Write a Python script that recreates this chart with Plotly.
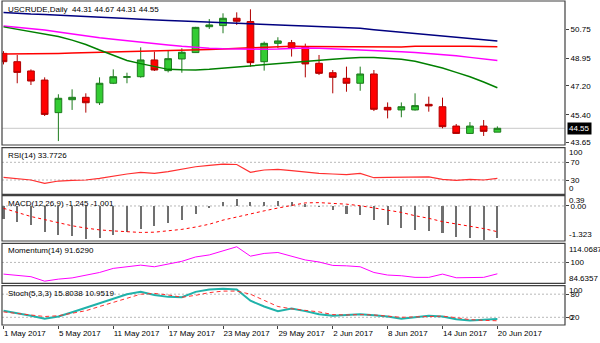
import plotly.graph_objects as go

# ---- data -------------------------------------------------------------
bar_dates = [
    "2017-05-01", "2017-05-02", "2017-05-03", "2017-05-04", "2017-05-05",
    "2017-05-08", "2017-05-09", "2017-05-10", "2017-05-11", "2017-05-12",
    "2017-05-15", "2017-05-16", "2017-05-17", "2017-05-18", "2017-05-19",
    "2017-05-22", "2017-05-23", "2017-05-24", "2017-05-25", "2017-05-26",
    "2017-05-29", "2017-05-30", "2017-05-31", "2017-06-01", "2017-06-02",
    "2017-06-05", "2017-06-06", "2017-06-07", "2017-06-08", "2017-06-09",
    "2017-06-12", "2017-06-13", "2017-06-14", "2017-06-15", "2017-06-16",
    "2017-06-19", "2017-06-20",
]

open_ = [49.24, 48.72, 48.14, 47.57, 45.53, 46.34, 46.49, 46.15, 47.37, 47.74,
         47.78, 48.83, 48.16, 48.89, 49.29, 50.91, 50.98, 51.44, 51.23, 48.72,
         49.87, 49.91, 49.66, 48.62, 48.03, 47.68, 47.37, 47.95, 45.86, 45.70,
         45.70, 46.05, 45.90, 44.69, 44.23, 44.69, 44.31]
high = [49.38, 49.14, 48.24, 47.74, 46.68, 46.99, 46.74, 47.74, 48.24, 48.03,
        49.62, 49.35, 49.45, 49.56, 50.90, 51.39, 51.75, 51.81, 52.00, 49.98,
        50.25, 50.08, 49.85, 49.14, 48.20, 48.41, 48.41, 48.20, 46.17, 46.17,
        46.74, 46.53, 46.47, 44.82, 44.94, 45.07, 44.67]
low = [48.55, 47.37, 47.26, 45.32, 43.75, 45.70, 45.53, 46.01, 47.32, 47.37,
       47.72, 48.14, 48.05, 48.03, 49.27, 50.77, 50.50, 51.02, 48.41, 48.16,
       49.56, 49.04, 47.74, 47.89, 46.74, 46.84, 46.90, 45.63, 45.17, 45.24,
       45.66, 45.59, 44.55, 44.20, 44.20, 44.07, 44.31]
close = [48.72, 48.05, 47.51, 45.42, 46.43, 46.49, 46.15, 47.37, 47.78, 47.78,
         48.83, 48.20, 48.91, 49.31, 50.87, 51.02, 51.44, 51.25, 48.66, 49.87,
         50.02, 49.60, 48.58, 47.99, 47.74, 47.37, 47.95, 45.74, 45.70, 45.90,
         45.97, 45.95, 44.65, 44.23, 44.69, 44.36, 44.55]

ma_blue = [51.80, 51.74, 51.70, 51.67, 51.63, 51.60, 51.57, 51.54, 51.48, 51.42,
           51.37, 51.32, 51.30, 51.27, 51.24, 51.21, 51.18, 51.15, 51.10, 51.07,
           51.04, 50.99, 50.95, 50.91, 50.88, 50.84, 50.81, 50.72, 50.64, 50.57,
           50.51, 50.42, 50.33, 50.25, 50.17, 50.07, 50.02]
ma_red = [49.20, 49.20, 49.21, 49.22, 49.24, 49.26, 49.28, 49.29, 49.31, 49.33,
          49.35, 49.37, 49.39, 49.41, 49.42, 49.48, 49.52, 49.56, 49.60, 49.62,
          49.66, 49.69, 49.67, 49.67, 49.66, 49.65, 49.64, 49.63, 49.63, 49.64,
          49.68, 49.69, 49.69, 49.69, 49.68, 49.67, 49.66]
ma_magenta = [50.96, 50.88, 50.80, 50.70, 50.58, 50.45, 50.32, 50.22, 50.12, 50.02,
              49.92, 49.84, 49.76, 49.68, 49.60, 49.56, 49.53, 49.51, 49.50, 49.50,
              49.51, 49.54, 49.58, 49.56, 49.53, 49.51, 49.47, 49.44, 49.40, 49.35,
              49.30, 49.24, 49.17, 49.09, 48.99, 48.89, 48.79]
ma_green = [50.90, 50.75, 50.60, 50.45, 50.30, 50.07, 49.80, 49.45, 49.10, 48.80,
            48.60, 48.42, 48.24, 48.21, 48.20, 48.25, 48.32, 48.40, 48.48, 48.56,
            48.64, 48.70, 48.75, 48.82, 48.88, 48.93, 48.98, 48.98, 48.94, 48.87,
            48.75, 48.55, 48.32, 48.05, 47.78, 47.45, 47.09]

rsi = [36.0, 33.8, 30.0, 22.5, 27.7, 29.3, 30.0, 33.8, 39.0, 43.6,
       47.4, 45.0, 48.8, 54.0, 60.0, 63.2, 66.0, 65.0, 47.4, 52.6,
       54.0, 51.0, 47.4, 45.0, 43.6, 42.0, 45.0, 35.2, 36.0, 36.0,
       37.5, 37.0, 31.5, 29.3, 31.5, 30.0, 33.7726]

macd_hist = [-0.48, -0.62, -0.74, -1.01, -1.10, -1.17, -1.26, -1.22, -1.10, -1.00,
             -0.87, -0.78, -0.65, -0.52, -0.29, -0.06, 0.15, 0.27, 0.17, 0.17,
             0.21, 0.17, 0.07, -0.02, -0.16, -0.31, -0.35, -0.54, -0.74, -0.83,
             -0.91, -0.96, -1.04, -1.19, -1.22, -1.30, -1.245]
macd_signal = [-0.09, -0.25, -0.41, -0.53, -0.66, -0.77, -0.86, -0.93, -0.97, -1.01,
               -1.03, -1.02, -0.97, -0.91, -0.82, -0.71, -0.55, -0.42, -0.30, -0.19,
               -0.08, 0.03, 0.12, 0.13, 0.11, 0.07, 0.01, -0.07, -0.16, -0.25,
               -0.38, -0.48, -0.61, -0.70, -0.78, -0.88, -1.001]

momentum = [91.4, 90.5, 89.5, 86.2, 87.7, 88.6, 90.5, 92.6, 95.6, 96.8,
            98.0, 96.8, 98.7, 100.8, 104.0, 105.5, 108.5, 111.5, 104.6, 106.6,
            107.3, 104.8, 101.8, 100.3, 97.8, 97.5, 96.8, 92.6, 90.7, 90.2,
            89.0, 89.0, 91.4, 88.7, 89.0, 89.0, 91.629]

stoch_k = [37, 31, 24, 16, 22, 33, 45, 57, 68, 80,
           86, 78, 73, 72, 86, 92, 94, 92, 63, 48,
           36, 43, 36, 28, 24, 26, 28, 25, 22, 16.5,
           20, 24, 22, 15, 12, 13, 15.8038]
stoch_d = [34, 30, 26, 22, 24, 30, 37, 48, 58, 70,
           80, 82, 78, 72, 77, 84, 88, 88, 80, 64,
           48, 42, 38, 34, 27, 26, 27, 26, 23, 20,
           21, 22, 23, 19, 14, 12, 10.9519]

date_ticks = [0, 4, 8, 12, 16, 20, 24, 28, 32, 36]
date_labels = ["1 May 2017", "5 May 2017", "11 May 2017", "17 May 2017",
               "23 May 2017", "29 May 2017", "2 Jun 2017", "8 Jun 2017",
               "14 Jun 2017", "20 Jun 2017"]

price_ticks = [50.75, 48.95, 47.20, 45.40, 43.65]
last_price = 44.55

# ---- figure -----------------------------------------------------------
FONT = "Liberation Sans, Arial, sans-serif"
xs = list(range(len(bar_dates)))

# panel vertical domains (paper units)
D_MAIN = [0.5556, 1.0]
D_RSI = [0.4034, 0.5472]
D_MACD = [0.2593, 0.3991]
D_MOM = [0.1287, 0.2522]
D_STO = [0.0, 0.1213]

fig = go.Figure()

fig.add_trace(go.Candlestick(
    x=xs, open=open_, high=high, low=low, close=close,
    increasing=dict(line=dict(color="#1E7B1E", width=1), fillcolor="#33CC33"),
    decreasing=dict(line=dict(color="#B00000", width=1), fillcolor="#FF0000"),
    whiskerwidth=0, xaxis="x", yaxis="y", showlegend=False, hoverinfo="skip",
))

for vals, col in [(ma_blue, "#000080"), (ma_red, "#FF0000"),
                  (ma_magenta, "#FF00FF"), (ma_green, "#008000")]:
    fig.add_trace(go.Scatter(x=xs, y=vals, mode="lines", yaxis="y",
                             line=dict(color=col, width=1.5),
                             showlegend=False, hoverinfo="skip"))

fig.add_trace(go.Scatter(x=xs, y=rsi, mode="lines", yaxis="y2",
                         line=dict(color="#FF3030", width=1.2),
                         showlegend=False, hoverinfo="skip"))

fig.add_trace(go.Bar(x=xs, y=macd_hist, yaxis="y3", width=0.15,
                     marker=dict(color="#707070", line=dict(width=0)),
                     showlegend=False, hoverinfo="skip"))
fig.add_trace(go.Scatter(x=xs, y=macd_signal, mode="lines", yaxis="y3",
                         line=dict(color="#FF0000", width=1, dash="3px,3px"),
                         showlegend=False, hoverinfo="skip"))

fig.add_trace(go.Scatter(x=xs, y=momentum, mode="lines", yaxis="y4",
                         line=dict(color="#FF00FF", width=1),
                         showlegend=False, hoverinfo="skip"))

fig.add_trace(go.Scatter(x=xs, y=stoch_k, mode="lines", yaxis="y5",
                         line=dict(color="#20B2AA", width=2),
                         showlegend=False, hoverinfo="skip"))
fig.add_trace(go.Scatter(x=xs, y=stoch_d, mode="lines", yaxis="y5",
                         line=dict(color="#FF3030", width=1, dash="4px,3px"),
                         showlegend=False, hoverinfo="skip"))


def yax(domain, rng, tickvals, ticktext):
    return dict(domain=domain, range=rng, anchor="x", side="right",
                tickvals=tickvals, ticktext=ticktext, ticks="outside",
                ticklen=3, tickcolor="#404040", showgrid=False, zeroline=False,
                showline=False, fixedrange=True,
                tickfont=dict(family=FONT, size=8, color="#000000"))


shapes = []
# dotted indicator levels
for yref, lv in [("y2", 70), ("y2", 30), ("y3", 0), ("y4", 100),
                 ("y5", 80), ("y5", 20)]:
    shapes.append(dict(type="line", xref="paper", x0=0, x1=1, yref=yref,
                       y0=lv, y1=lv, layer="below",
                       line=dict(color="#B8B8B8", width=1, dash="2px,2px")))
# last price line
shapes.append(dict(type="line", xref="paper", x0=0, x1=1, yref="y",
                   y0=last_price, y1=last_price, layer="below",
                   line=dict(color="#C8C8C8", width=1)))
# panel frames
for d in [D_MAIN, D_RSI, D_MACD, D_MOM, D_STO]:
    shapes.append(dict(type="rect", xref="paper", yref="paper", x0=0, x1=1,
                       y0=d[0], y1=d[1], layer="above",
                       line=dict(color="#404040", width=1.2)))

ann = []


def label(text, y, yref="paper", x=0, xshift=4, color="#000000", **kw):
    ann.append(dict(text=text, x=x, y=y, xref="paper", yref=yref,
                    xanchor="left", yanchor="middle", showarrow=False,
                    xshift=xshift, font=dict(family=FONT, size=8, color=color),
                    **kw))


# panel headers
label("USCRUDE,Daily  44.31 44.67 44.31 44.55", (325 - 9) / 324)
label("RSI(14) 33.7726", (325 - 155) / 324)
label("MACD(12,26,9) -1.245 -1.001", (325 - 203.3) / 324)
label("Momentum(14) 91.6290", (325 - 250.7) / 324)
label("Stoch(5,3,3) 15.8038 10.9519", (325 - 293.3) / 324)

# scale labels pinned inside panel edges
label("100", 100, "y2", x=1, xshift=2, yshift=-3)
label("0", 0, "y2", x=1, xshift=2, yshift=5)
label("0.39", 0.39, "y3", x=1, xshift=2, yshift=-5)
label("-1.323", -1.323, "y3", x=1, xshift=2, yshift=5)
label("114.0687", 114.0687, "y4", x=1, xshift=2, yshift=-6)
label("84.6357", 84.6357, "y4", x=1, xshift=2, yshift=5)
label("100", 100, "y5", x=1, xshift=2, yshift=-4)
label("0", 0, "y5", x=1, xshift=2, yshift=7)
# last price tag
label("44.55", last_price, "y", x=1, xshift=2, color="#FFFFFF",
      bgcolor="#000000", borderpad=1)

fig.update_layout(
    width=600, height=343,
    margin=dict(l=2, r=35, t=1, b=18),
    paper_bgcolor="#FFFFFF", plot_bgcolor="#FFFFFF",
    showlegend=False, bargap=0,
    xaxis=dict(domain=[0, 1], range=[-0.11, 40.93], anchor="y5",
               tickvals=date_ticks, ticktext=date_labels,
               ticks="outside", ticklen=3, tickcolor="#404040",
               ticklabelposition="outside right", tickangle=0,
               tickfont=dict(family=FONT, size=8, color="#000000"),
               showgrid=False, zeroline=False, showline=False,
               rangeslider=dict(visible=False), fixedrange=True),
    yaxis=yax(D_MAIN, [43.505, 52.52], price_ticks,
              [f"{v:.2f}" for v in price_ticks]),
    yaxis2=yax(D_RSI, [-2.3, 103], [70, 30], ["70", "30"]),
    yaxis3=yax(D_MACD, [-1.362, 0.40], [0], ["0.00"]),
    yaxis4=yax(D_MOM, [84.6357, 114.0687], [100], ["100"]),
    yaxis5=yax(D_STO, [0, 102], [80, 20], ["80", "20"]),
    shapes=shapes,
    annotations=ann,
)

fig.write_html("out.html")
